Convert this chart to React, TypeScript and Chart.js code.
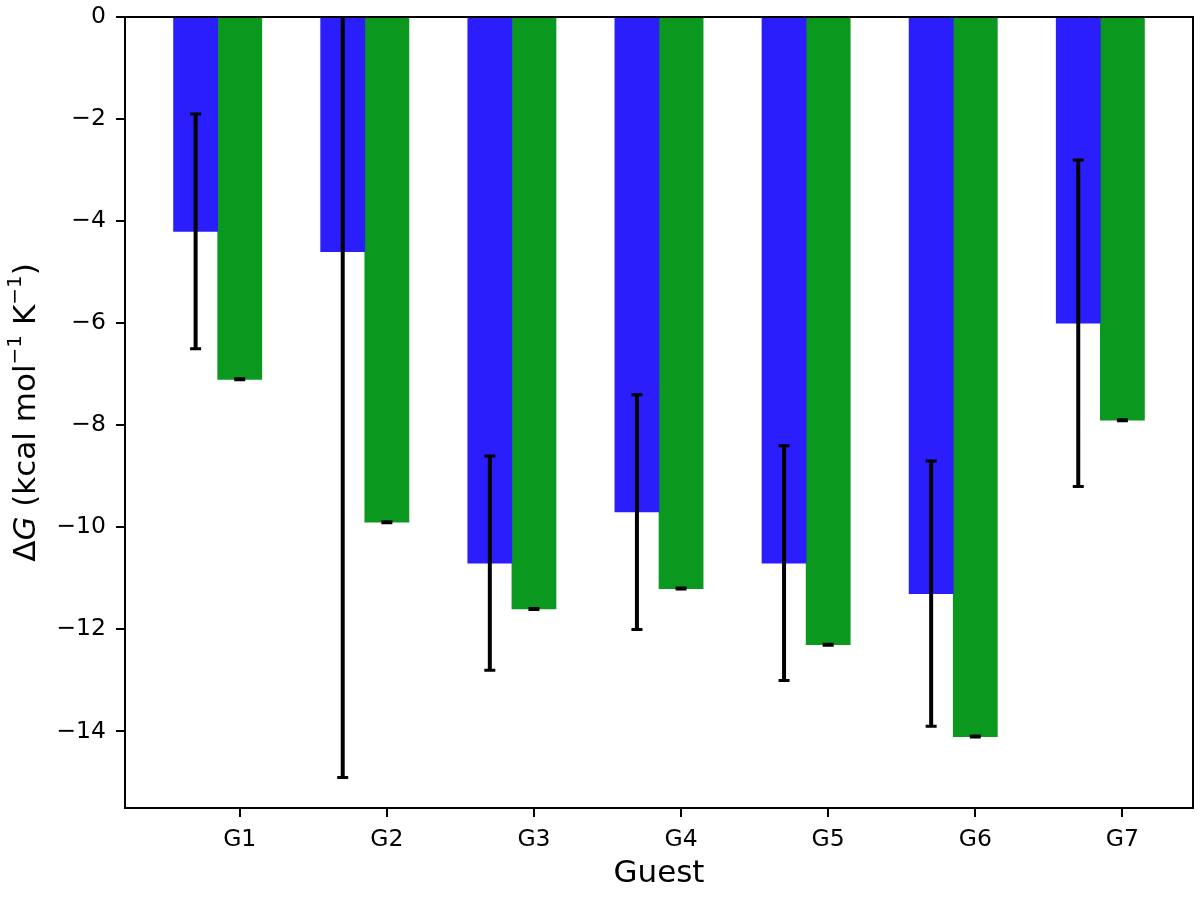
import React, { useEffect, useRef } from "react";
import { Chart, registerables } from "chart.js";

Chart.register(...registerables);

// ---- data ----
const categories = ["G1", "G2", "G3", "G4", "G5", "G6", "G7"];
const blueValues = [-4.2, -4.6, -10.7, -9.7, -10.7, -11.3, -6.0];
const blueErrors = [2.3, 10.3, 2.1, 2.3, 2.3, 2.6, 3.2];
const greenValues = [-7.1, -9.9, -11.6, -11.2, -12.3, -14.1, -7.9];
const greenErrors = [0.01, 0.01, 0.01, 0.01, 0.01, 0.01, 0.01];
const yTicks = [0, -2, -4, -6, -8, -10, -12, -14];
const yMin = -15.5;
const yMax = 0;

// layout constants
const BLUE_SHIFT = -0.3;
const X_MIN = -0.78;
const X_MAX = 6.48;
const FONT = "'DejaVu Sans', sans-serif";

const fmt = (v: number) => (v < 0 ? "\u2212" + Math.abs(v) : String(v));

const errorBarPlugin = {
  id: "errorBars",
  afterDatasetsDraw(chart: any) {
    const { ctx, chartArea, scales } = chart;
    const xs = scales.x;
    const ys = scales.y;
    ctx.save();
    ctx.beginPath();
    ctx.rect(chartArea.left, chartArea.top, chartArea.right - chartArea.left, chartArea.bottom - chartArea.top);
    ctx.clip();
    ctx.strokeStyle = "#000";
    chart.data.datasets.forEach((ds: any) => {
      const errs: number[] = ds.errors || [];
      ds.data.forEach((pt: any, i: number) => {
        const e = errs[i];
        if (e == null) return;
        const px = xs.getPixelForValue(pt.x);
        const yTop = ys.getPixelForValue(pt.y + e);
        const yBot = ys.getPixelForValue(pt.y - e);
        ctx.lineWidth = 4;
        ctx.beginPath();
        ctx.moveTo(px, yTop);
        ctx.lineTo(px, yBot);
        ctx.stroke();
        ctx.lineWidth = 3;
        const cw = 5.5;
        ctx.beginPath();
        ctx.moveTo(px - cw, yTop);
        ctx.lineTo(px + cw, yTop);
        ctx.moveTo(px - cw, yBot);
        ctx.lineTo(px + cw, yBot);
        ctx.stroke();
      });
    });
    ctx.restore();
  },
};

const framePlugin = {
  id: "frame",
  afterDraw(chart: any) {
    const { ctx, chartArea } = chart;
    ctx.save();
    ctx.strokeStyle = "#000";
    ctx.lineWidth = 2;
    ctx.strokeRect(chartArea.left, chartArea.top, chartArea.right - chartArea.left, chartArea.bottom - chartArea.top);
    ctx.restore();
  },
};

const yLabelPieces = [
  { text: "\u0394", italic: false, sup: false },
  { text: "G", italic: true, sup: false },
  { text: " (kcal mol", italic: false, sup: false },
  { text: "\u22121", italic: false, sup: true },
  { text: " K", italic: false, sup: false },
  { text: "\u22121", italic: false, sup: true },
  { text: ")", italic: false, sup: false },
];

const yLabelPlugin = {
  id: "yLabel",
  afterDraw(chart: any) {
    const { ctx, chartArea } = chart;
    const mainSize = 31;
    const supSize = 20;
    const fontFor = (p: any) =>
      `${p.italic ? "italic " : ""}${p.sup ? supSize : mainSize}px ${FONT}`;
    ctx.save();
    let total = 0;
    const widths = yLabelPieces.map((p) => {
      ctx.font = fontFor(p);
      const w = ctx.measureText(p.text).width;
      total += w;
      return w;
    });
    const cy = (chartArea.top + chartArea.bottom) / 2;
    ctx.translate(35, cy);
    ctx.rotate(-Math.PI / 2);
    ctx.fillStyle = "#000";
    ctx.textBaseline = "alphabetic";
    ctx.textAlign = "left";
    let x = -total / 2;
    yLabelPieces.forEach((p, i) => {
      ctx.font = fontFor(p);
      ctx.fillText(p.text, x, p.sup ? -14 : 0);
      x += widths[i];
    });
    ctx.restore();
  },
};

export default function App() {
  const canvasRef = useRef<HTMLCanvasElement | null>(null);

  useEffect(() => {
    if (!canvasRef.current) return;
    Chart.defaults.font.family = FONT;
    const chart = new Chart(canvasRef.current, {
      type: "bar",
      data: {
        datasets: [
          {
            label: "blue",
            data: blueValues.map((v, i) => ({ x: i + BLUE_SHIFT, y: v })),
            errors: blueErrors,
            backgroundColor: "#2a1efc",
            borderWidth: 0,
            grouped: false,
            categoryPercentage: 1,
            barPercentage: 1,
          } as any,
          {
            label: "green",
            data: greenValues.map((v, i) => ({ x: i, y: v })),
            errors: greenErrors,
            backgroundColor: "#0a981e",
            borderWidth: 0,
            grouped: false,
            categoryPercentage: 1,
            barPercentage: 1,
          } as any,
        ],
      },
      options: {
        animation: false,
        responsive: false,
        devicePixelRatio: 1,
        layout: { padding: { top: 17, right: 7, left: 0, bottom: 0 } },
        plugins: {
          legend: { display: false },
          tooltip: { enabled: false },
        },
        scales: {
          x: {
            type: "linear",
            min: X_MIN,
            max: X_MAX,
            offset: false,
            afterBuildTicks: (scale: any) => {
              scale.ticks = categories.map((_, i) => ({ value: i }));
            },
            afterFit: (scale: any) => {
              scale.height = 92;
              scale.paddingLeft = 0;
              scale.paddingRight = 0;
            },
            ticks: {
              callback: (_v: any, i: number) => categories[i],
              color: "#000",
              font: { size: 23.5 },
              padding: 9,
              maxRotation: 0,
              autoSkip: false,
            },
            grid: {
              display: true,
              offset: false,
              drawOnChartArea: false,
              drawTicks: true,
              tickLength: 9,
              color: "#000",
              lineWidth: 2,
            },
            border: { display: true, color: "#000", width: 2 },
            title: {
              display: true,
              text: "Guest",
              color: "#000",
              font: { size: 31 },
              padding: { top: 0, bottom: 7 },
            },
          },
          y: {
            type: "linear",
            min: yMin,
            max: yMax,
            afterBuildTicks: (scale: any) => {
              scale.ticks = yTicks.map((v) => ({ value: v }));
            },
            afterFit: (scale: any) => {
              scale.width = 125;
              scale.paddingTop = 0;
              scale.paddingBottom = 0;
            },
            ticks: {
              callback: (v: any) => fmt(Number(v)),
              color: "#000",
              font: { size: 23.5 },
              padding: 10,
            },
            grid: {
              display: true,
              drawOnChartArea: false,
              drawTicks: true,
              tickLength: 9,
              color: "#000",
              lineWidth: 2,
            },
            border: { display: true, color: "#000", width: 2 },
          },
        },
      } as any,
      plugins: [errorBarPlugin, framePlugin, yLabelPlugin],
    });
    return () => chart.destroy();
  }, []);

  return (
    <div style={{ position: "absolute", left: 0, top: 0, width: 1200, height: 900, background: "#fff" }}>
      <canvas ref={canvasRef} width={1200} height={900} style={{ display: "block" }} />
    </div>
  );
}
